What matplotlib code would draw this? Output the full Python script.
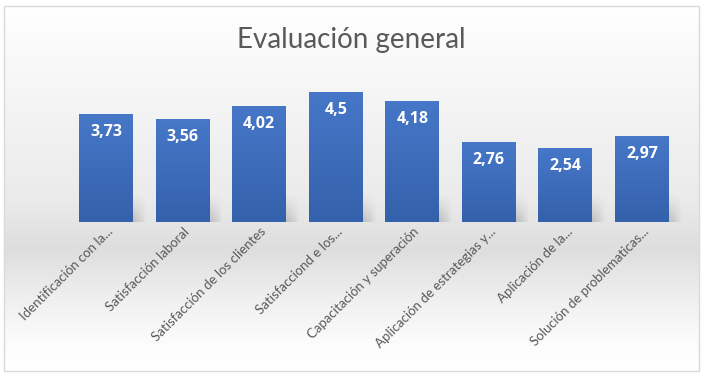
import numpy as np
import matplotlib.pyplot as plt
from matplotlib.colors import LinearSegmentedColormap
from matplotlib.patches import Rectangle
from matplotlib.transforms import ScaledTranslation

plt.rcParams["font.family"] = ["Lato", "DejaVu Sans"]

categories = [
    "Identificación con la...",
    "Satisfacción laboral",
    "Satisfacción de los clientes",
    "Satisfacciond e los...",
    "Capacitación y superación",
    "Aplicación de estrategias y...",
    "Aplicación de la...",
    "Solución de problematicas...",
]
values = [3.73, 3.56, 4.02, 4.5, 4.18, 2.76, 2.54, 2.97]
value_labels = ["3,73", "3,56", "4,02", "4,5", "4,18", "2,76", "2,54", "2,97"]

W, H = 708, 383
fig = plt.figure(figsize=(W / 100, H / 100), dpi=100)
fig.patch.set_facecolor("white")

# background with soft gray band (pixel coordinates)
bg = fig.add_axes([0, 0, 1, 1], zorder=-1)
bg.axis("off")
ys = np.linspace(6, 371, 200)
prof = np.interp(ys, [6, 60, 200, 250, 300, 345, 371], [1.0, 0.975, 0.92, 0.87, 0.94, 0.99, 1.0])
bgimg = np.repeat(prof[:, None], 2, axis=1)
bg.imshow(np.dstack([bgimg] * 3), extent=[4, 699, 371, 6], aspect="auto", interpolation="bilinear")
bg.add_patch(Rectangle((4, 6), 695, 365, fill=False, edgecolor="#d9d9d9", lw=1.0))
bg.set_xlim(0, W)
bg.set_ylim(H, 0)

# main axes
left_px, right_px = 67.7, 680.3
bottom_frac = 1 - 221.7 / H
top_frac = 1 - 77.2 / H
ax = fig.add_axes([left_px / W, bottom_frac, (right_px - left_px) / W, top_frac - bottom_frac])
ax.patch.set_alpha(0)

x = np.arange(len(values))
width = 0.705
bars = ax.bar(x, values, width=width, color="#4472c4", zorder=3)

cmap = LinearSegmentedColormap.from_list("barg", ["#3461ab", "#4677c8"])
grad = np.linspace(0, 1, 100)[:, None]
for b in bars:
    x0 = b.get_x()
    x1 = x0 + b.get_width()
    h = b.get_height()
    im = ax.imshow(grad, extent=[x0, x1, 0, h], origin="lower", aspect="auto",
                   cmap=cmap, zorder=4, interpolation="bilinear")
    im.set_clip_path(b)
    # soft floor shadow behind each bar
    sh = np.zeros((50, 50, 4))
    gy = np.linspace(0, 1, 50)[:, None]
    gx = np.linspace(0, 1, 50)[None, :]
    sh[..., :3] = 0.35
    sh[..., 3] = 0.45 * (1 - gy) ** 1.2 * np.clip(1.0 - gx ** 4, 0, 1)
    ax.imshow(sh, extent=[x0 + 0.05, x1 + 0.17, 0, 1.0], origin="lower", aspect="auto",
              zorder=2, interpolation="bilinear")

for b, lab in zip(bars, value_labels):
    ax.annotate(lab, (b.get_x() + b.get_width() / 2, b.get_height()),
                xytext=(0, -18), textcoords="offset pixels",
                ha="center", va="center", color="white", fontsize=11.5,
                fontweight="bold", family=["Open Sans", "DejaVu Sans"], zorder=5)

ax.set_xlim(-0.5, len(values) - 0.5)
ax.set_ylim(0, 5)
ax.set_yticks([])
ax.set_xticks(x)
ax.set_xticklabels(categories, rotation=45, ha="right", va="center",
                   rotation_mode="anchor", fontsize=9.5, color="#595959")
ax.tick_params(axis="x", length=0, pad=8)
shift = ScaledTranslation(5 / 100, 3 / 100, fig.dpi_scale_trans)
for lbl in ax.get_xticklabels():
    lbl.set_transform(lbl.get_transform() + shift)
for s in ax.spines.values():
    s.set_visible(False)

fig.text(351 / W, 1 - 40 / H, "Evaluación general", ha="center", va="center",
         fontsize=20, color="#595959")

fig.savefig("out.png", dpi=100)
